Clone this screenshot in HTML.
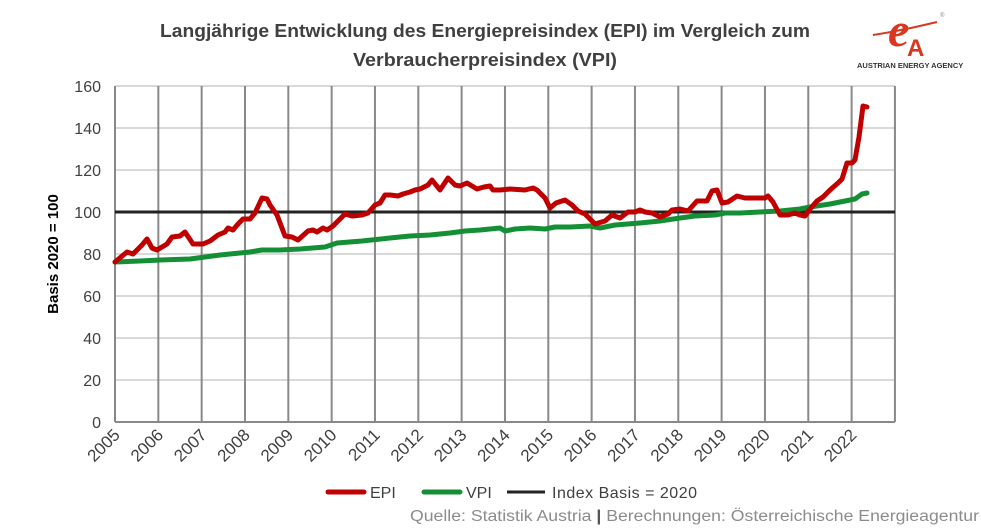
<!DOCTYPE html>
<html><head><meta charset="utf-8"><style>body{margin:0;background:#fff}svg{display:block}</style></head>
<body>
<svg width="981" height="531" xmlns="http://www.w3.org/2000/svg" font-family="Liberation Sans, sans-serif">
<rect width="981" height="531" fill="#fff"/>
<text x="160" y="37" textLength="650" lengthAdjust="spacingAndGlyphs" font-size="18.5" font-weight="bold" fill="#404040">Langjährige Entwicklung des Energiepreisindex (EPI) im Vergleich zum</text>
<text x="353" y="66" textLength="264" lengthAdjust="spacingAndGlyphs" font-size="18.5" font-weight="bold" fill="#404040">Verbraucherpreisindex (VPI)</text>
<!-- logo -->
<g>
<text x="888" y="46" font-size="48" font-style="italic" font-weight="bold" fill="#d8381f" font-family="Liberation Serif, serif">e</text>
<text x="907" y="56" font-size="24" font-weight="bold" fill="#d8381f">A</text>
<path d="M873 35 Q905 30 937 22" stroke="#d8381f" stroke-width="2" fill="none"/>
<text x="940" y="17" font-size="6" fill="#888">®</text>
<text x="857" y="68" font-size="7.5" font-weight="bold" fill="#333">AUSTRIAN ENERGY AGENCY</text>
</g>
<g stroke="#d9d9d9" stroke-width="2">
<line x1="115" y1="86" x2="895" y2="86"/><line x1="115" y1="128" x2="895" y2="128"/><line x1="115" y1="170" x2="895" y2="170"/><line x1="115" y1="254" x2="895" y2="254"/><line x1="115" y1="296" x2="895" y2="296"/><line x1="115" y1="338" x2="895" y2="338"/><line x1="115" y1="380" x2="895" y2="380"/>
</g>
<g stroke="#898989" stroke-width="2" id="v"></g>
<line x1="115" y1="422" x2="895" y2="422" stroke="#898989" stroke-width="2"/>
<g font-size="16" fill="#404040" text-anchor="end">
<text x="101" y="92">160</text><text x="101" y="134">140</text><text x="101" y="176">120</text><text x="101" y="218">100</text><text x="101" y="260">80</text><text x="101" y="302">60</text><text x="101" y="344">40</text><text x="101" y="386">20</text><text x="101" y="428">0</text>
</g>
<g id="xl" font-size="17" fill="#404040" text-anchor="end"></g>
<text transform="translate(58,254) rotate(-90)" text-anchor="middle" font-size="15" font-weight="bold" fill="#000">Basis 2020 = 100</text>
<line x1="115" y1="212" x2="895" y2="212" stroke="#222" stroke-width="3"/>
<polyline fill="none" stroke="#158f35" stroke-width="5" stroke-linejoin="round" stroke-linecap="round" points="115,262 140,261 160,260 190,259 205,257 220,255 250,252 262,250 280,250 300,249 325,247 337,243 362,241 390,238 410,236 430,235 450,233 465,231 480,230 500,228 505,231 515,229 530,228 545,229 555,227 570,227 590,226 600,228 615,225 640,223 660,221 680,218 695,216 715,215 725,213 740,213 760,212 780,211 800,209 810,207 830,204 850,200 855,199 862,194 867,193"/>
<polyline fill="none" stroke="#c00000" stroke-width="5" stroke-linejoin="round" stroke-linecap="round" points="115,262 127,252 133,254 142,245 147,239 152,248 157,250 167,244 172,237 180,236 185,232 193,244 203,244 210,241 218,235 225,232 228,228 233,230 238,224 243,219 250,219 255,213 262,198 267,199 270,205 277,215 285,236 292,237 298,240 308,231 313,230 317,232 323,228 327,230 333,226 340,219 345,214 352,216 362,215 368,213 375,205 380,203 385,195 390,195 398,196 403,194 410,192 415,190 420,189 428,185 432,180 440,190 448,178 455,185 460,186 467,183 477,189 484,187 490,186 493,190 500,190 510,189 525,190 533,188 537,190 545,198 550,208 556,203 565,200 572,205 578,211 585,214 595,224 605,221 612,215 620,218 628,212 635,212 640,210 645,212 652,213 660,217 668,214 672,210 680,209 688,211 697,201 707,201 712,191 717,190 722,203 728,202 737,196 745,198 755,198 765,198 768,196 773,202 780,215 788,215 795,213 800,215 805,216 810,209 817,201 823,197 830,190 838,183 842,179 847,163 852,163 855,160 859,137 863,106 867,107"/>
<g font-size="16" fill="#404040">
<line x1="328" y1="492" x2="364" y2="492" stroke="#c00000" stroke-width="5" stroke-linecap="round"/><text x="370" y="498">EPI</text>
<line x1="424" y1="492" x2="460" y2="492" stroke="#158f35" stroke-width="5" stroke-linecap="round"/><text x="466" y="498">VPI</text>
<line x1="507" y1="492" x2="545" y2="492" stroke="#222" stroke-width="3"/><text x="552" y="498" textLength="145">Index Basis  = 2020</text>
</g>
<text x="410" y="521" textLength="569" lengthAdjust="spacingAndGlyphs" font-size="15.5" fill="#8c8c8c">Quelle: Statistik Austria <tspan font-weight="bold" fill="#555">|</tspan> Berechnungen: Österreichische Energieagentur</text>
<script>
var v=document.getElementById('v'),xl=document.getElementById('xl'),ns='http://www.w3.org/2000/svg';
for(var i=0;i<=18;i++){var x=115+i*43.33;var l=document.createElementNS(ns,'line');l.setAttribute('x1',x);l.setAttribute('x2',x);l.setAttribute('y1',86);l.setAttribute('y2',422);v.appendChild(l);
if(i<18){var t=document.createElementNS(ns,'text');t.setAttribute('transform','translate('+(x+6)+',436) rotate(-45)');t.textContent=2005+i;xl.appendChild(t);}}
</script>
</svg>
</body></html>
